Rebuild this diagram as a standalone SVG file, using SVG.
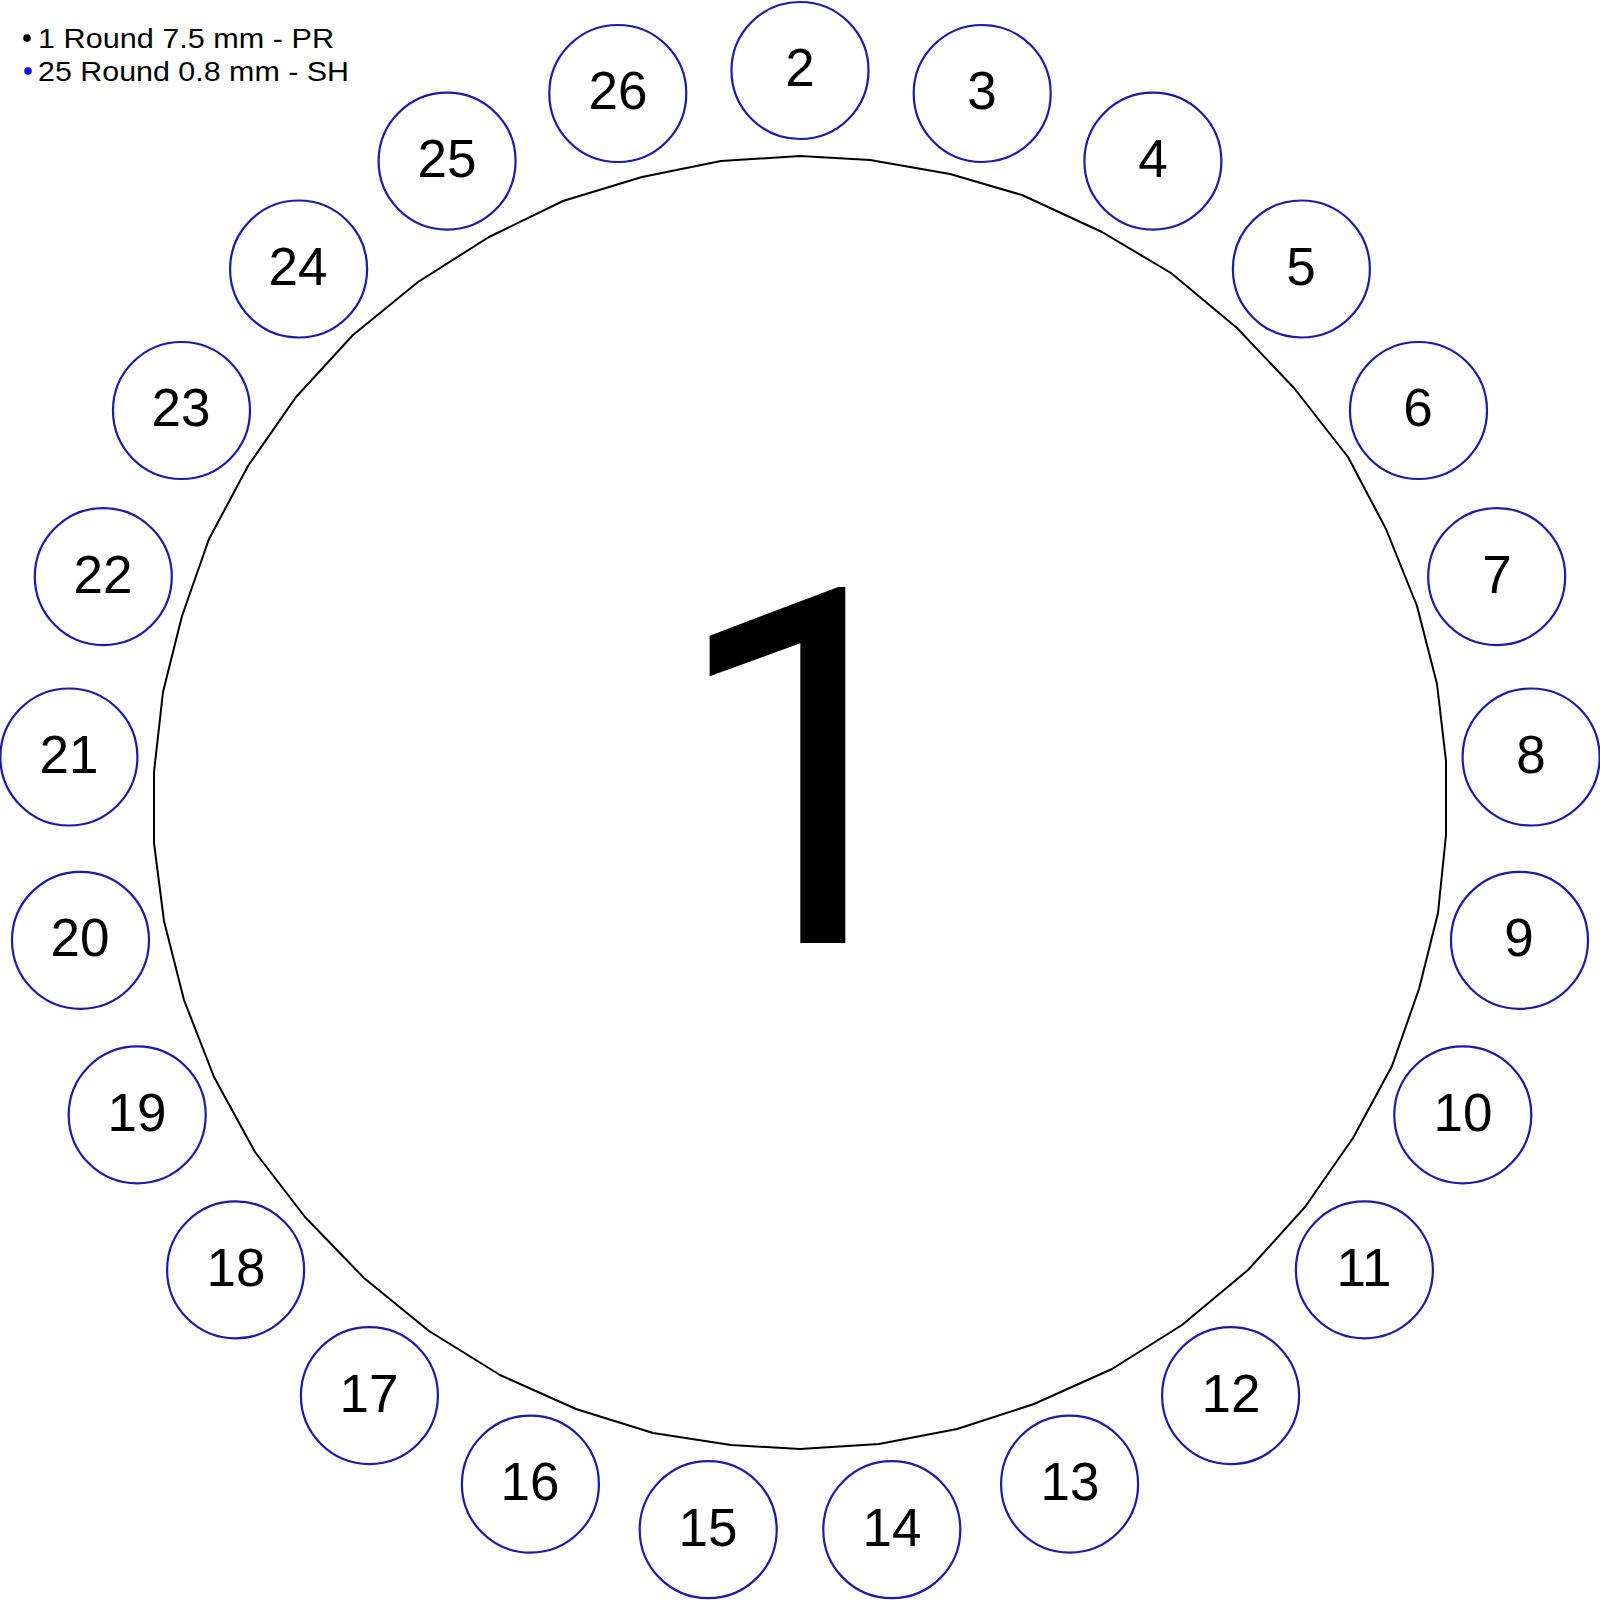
<svg xmlns="http://www.w3.org/2000/svg" width="1600" height="1600" viewBox="0 0 1600 1600">
<style>
.pad{fill:none;stroke:#1a1aad;stroke-width:2.2}
.num{font-family:"Liberation Sans",Arial,sans-serif;font-size:53px;fill:#000;text-anchor:middle}
.big{font-family:Roboto,"Liberation Sans",Arial,sans-serif;font-size:498px;fill:#000;text-anchor:middle}
.leg{font-family:"Liberation Sans",Arial,sans-serif;font-size:28px;fill:#000}
</style>
<rect width="1600" height="1600" fill="#fff"/>
<g id="legend">
<circle cx="27" cy="38" r="3.8" fill="#000"/>
<text class="leg" x="38" y="48" textLength="296" lengthAdjust="spacingAndGlyphs">1 Round 7.5 mm - PR</text>
<circle cx="28" cy="71" r="3.8" fill="#1010e0"/>
<text class="leg" x="38" y="81" textLength="311" lengthAdjust="spacingAndGlyphs">25 Round 0.8 mm - SH</text>
</g>
<g id="node1">
<polygon fill="none" stroke="#000" stroke-width="2" stroke-linejoin="round" points="800,156 870,160 950,174 1022,195 1102,232 1171,273 1237,328 1294,388 1348,457 1386,529 1417,606 1437,684 1446,761 1446,835 1438,913 1419,989 1392,1066 1353,1138 1305,1207 1248,1270 1182,1325 1112,1369 1034,1404 957,1429 879,1444 800,1449 731,1445 653,1433 576,1409 500,1375 429,1331 364,1278 305,1217 255,1152 214,1077 184,1000 164,921 154,843 154,772 163,692 182,616 209,539 248,466 296,397 353,335 418,282 489,237 563,201 642,177 721,161"/>
<text class="big" x="808" y="943">1</text>
</g>
<g id="node2"><circle class="pad" cx="800" cy="70.5" r="68.5"/><text class="num" x="800" y="86">2</text></g>
<g id="node3"><circle class="pad" cx="982.2" cy="93.5" r="68.5"/><text class="num" x="982" y="109">3</text></g>
<g id="node4"><circle class="pad" cx="1152.9" cy="161.1" r="68.5"/><text class="num" x="1153" y="177">4</text></g>
<g id="node5"><circle class="pad" cx="1301.4" cy="269" r="68.5"/><text class="num" x="1301" y="285">5</text></g>
<g id="node6"><circle class="pad" cx="1418.5" cy="410.5" r="68.5"/><text class="num" x="1418" y="426">6</text></g>
<g id="node7"><circle class="pad" cx="1496.7" cy="576.6" r="68.5"/><text class="num" x="1497" y="593">7</text></g>
<g id="node8"><circle class="pad" cx="1531.1" cy="757" r="68.5"/><text class="num" x="1531" y="773">8</text></g>
<g id="node9"><circle class="pad" cx="1519.5" cy="940.3" r="68.5"/><text class="num" x="1519" y="956">9</text></g>
<g id="node10"><circle class="pad" cx="1462.8" cy="1114.9" r="68.5"/><text class="num" x="1463" y="1131">10</text></g>
<g id="node11"><circle class="pad" cx="1364.4" cy="1269.9" r="68.5"/><text class="num" x="1364" y="1286">11</text></g>
<g id="node12"><circle class="pad" cx="1230.6" cy="1395.6" r="68.5"/><text class="num" x="1231" y="1412">12</text></g>
<g id="node13"><circle class="pad" cx="1069.6" cy="1484.1" r="68.5"/><text class="num" x="1070" y="1500">13</text></g>
<g id="node14"><circle class="pad" cx="891.8" cy="1529.7" r="68.5"/><text class="num" x="892" y="1546">14</text></g>
<g id="node15"><circle class="pad" cx="708.2" cy="1529.7" r="68.5"/><text class="num" x="708" y="1546">15</text></g>
<g id="node16"><circle class="pad" cx="530.4" cy="1484.1" r="68.5"/><text class="num" x="530" y="1500">16</text></g>
<g id="node17"><circle class="pad" cx="369.4" cy="1395.6" r="68.5"/><text class="num" x="369" y="1412">17</text></g>
<g id="node18"><circle class="pad" cx="235.6" cy="1269.9" r="68.5"/><text class="num" x="236" y="1286">18</text></g>
<g id="node19"><circle class="pad" cx="137.2" cy="1114.9" r="68.5"/><text class="num" x="137" y="1131">19</text></g>
<g id="node20"><circle class="pad" cx="80.5" cy="940.3" r="68.5"/><text class="num" x="80" y="956">20</text></g>
<g id="node21"><circle class="pad" cx="68.9" cy="757" r="68.5"/><text class="num" x="69" y="773">21</text></g>
<g id="node22"><circle class="pad" cx="103.3" cy="576.6" r="68.5"/><text class="num" x="103" y="593">22</text></g>
<g id="node23"><circle class="pad" cx="181.5" cy="410.5" r="68.5"/><text class="num" x="181" y="426">23</text></g>
<g id="node24"><circle class="pad" cx="298.6" cy="269" r="68.5"/><text class="num" x="298" y="285">24</text></g>
<g id="node25"><circle class="pad" cx="447.1" cy="161.1" r="68.5"/><text class="num" x="447" y="177">25</text></g>
<g id="node26"><circle class="pad" cx="617.8" cy="93.5" r="68.5"/><text class="num" x="618" y="109">26</text></g>
<g id="connectors"/>
</svg>
